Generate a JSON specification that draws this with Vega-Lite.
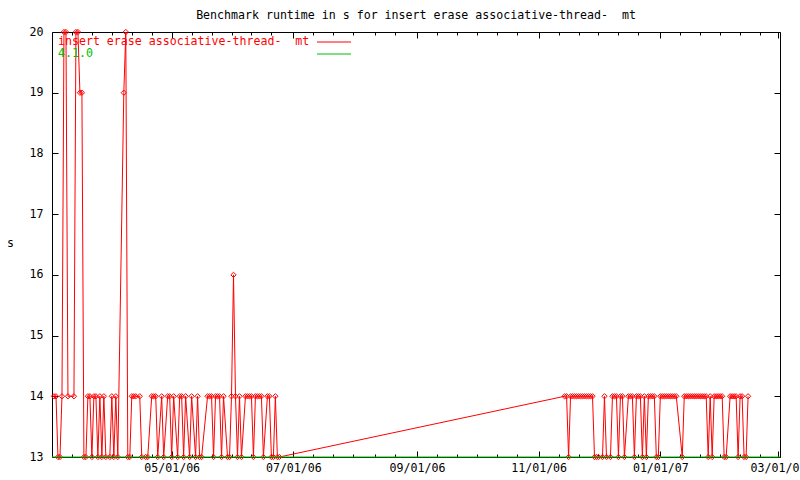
{
  "$schema": "https://vega.github.io/schema/vega-lite/v6.json",
  "width": 728,
  "height": 425,
  "autosize": "none",
  "padding": {"left": 52, "top": 32, "right": 20, "bottom": 23},
  "background": "white",
  "title": {"text": "Benchmark runtime in s for insert erase associative-thread- \u00a0mt", "font": "DejaVu Sans Mono", "fontSize": 11.6, "fontWeight": "normal", "color": "black", "anchor": "middle", "offset": 4},
  "config": {
    "view": {"stroke": "black", "strokeWidth": 1},
    "font": "DejaVu Sans Mono",
    "axis": {"domain": false, "grid": false, "labelFont": "DejaVu Sans Mono", "labelFontSize": 11.6, "labelColor": "black", "tickColor": "black", "tickWidth": 1, "titleFont": "DejaVu Sans Mono", "titleFontSize": 11.6, "titleFontWeight": "normal", "titleColor": "black"}
  },
  "datasets": {
    "bench": [
      {"d": "2006-03-03T00:00", "v": 14}, {"d": "2006-03-04T00:00", "v": 14}, {"d": "2006-03-05T00:00", "v": 13}, {"d": "2006-03-06T00:00", "v": 13},
      {"d": "2006-03-07T00:00", "v": 14}, {"d": "2006-03-08T00:00", "v": 20}, {"d": "2006-03-09T00:00", "v": 20}, {"d": "2006-03-10T00:00", "v": 14},
      {"d": "2006-03-13T00:00", "v": 14}, {"d": "2006-03-14T00:00", "v": 20}, {"d": "2006-03-15T00:00", "v": 20}, {"d": "2006-03-16T00:00", "v": 19},
      {"d": "2006-03-17T00:00", "v": 19}, {"d": "2006-03-18T00:00", "v": 13}, {"d": "2006-03-19T00:00", "v": 13}, {"d": "2006-03-20T00:00", "v": 14},
      {"d": "2006-03-21T00:00", "v": 14}, {"d": "2006-03-22T00:00", "v": 13}, {"d": "2006-03-23T00:00", "v": 14}, {"d": "2006-03-24T00:00", "v": 14},
      {"d": "2006-03-25T00:00", "v": 13}, {"d": "2006-03-26T00:00", "v": 14}, {"d": "2006-03-27T00:00", "v": 13}, {"d": "2006-03-28T00:00", "v": 14},
      {"d": "2006-03-29T00:00", "v": 13}, {"d": "2006-03-31T00:00", "v": 13}, {"d": "2006-04-01T00:00", "v": 14}, {"d": "2006-04-02T00:00", "v": 13},
      {"d": "2006-04-03T00:00", "v": 14}, {"d": "2006-04-04T00:00", "v": 13}, {"d": "2006-04-07T00:00", "v": 19}, {"d": "2006-04-08T00:00", "v": 20},
      {"d": "2006-04-09T00:00", "v": 13}, {"d": "2006-04-10T00:00", "v": 13}, {"d": "2006-04-11T00:00", "v": 14}, {"d": "2006-04-12T00:00", "v": 14},
      {"d": "2006-04-13T00:00", "v": 14}, {"d": "2006-04-15T00:00", "v": 14}, {"d": "2006-04-16T00:00", "v": 13}, {"d": "2006-04-18T00:00", "v": 13},
      {"d": "2006-04-19T00:00", "v": 13}, {"d": "2006-04-21T00:00", "v": 14}, {"d": "2006-04-22T00:00", "v": 14}, {"d": "2006-04-23T00:00", "v": 14},
      {"d": "2006-04-24T00:00", "v": 13}, {"d": "2006-04-26T00:00", "v": 14}, {"d": "2006-04-27T00:00", "v": 13}, {"d": "2006-04-29T00:00", "v": 14},
      {"d": "2006-04-30T00:00", "v": 14}, {"d": "2006-05-01T00:00", "v": 13}, {"d": "2006-05-02T00:00", "v": 14}, {"d": "2006-05-04T00:00", "v": 13},
      {"d": "2006-05-05T00:00", "v": 14}, {"d": "2006-05-06T00:00", "v": 14}, {"d": "2006-05-07T00:00", "v": 13}, {"d": "2006-05-08T00:00", "v": 14},
      {"d": "2006-05-10T00:00", "v": 13}, {"d": "2006-05-11T00:00", "v": 14}, {"d": "2006-05-13T00:00", "v": 13}, {"d": "2006-05-14T00:00", "v": 14},
      {"d": "2006-05-15T00:00", "v": 13}, {"d": "2006-05-16T00:00", "v": 13}, {"d": "2006-05-19T00:00", "v": 14}, {"d": "2006-05-20T00:00", "v": 14},
      {"d": "2006-05-21T00:00", "v": 14}, {"d": "2006-05-22T00:00", "v": 13}, {"d": "2006-05-23T00:00", "v": 14}, {"d": "2006-05-24T00:00", "v": 14},
      {"d": "2006-05-25T00:00", "v": 14}, {"d": "2006-05-26T00:00", "v": 13}, {"d": "2006-05-27T00:00", "v": 14}, {"d": "2006-05-29T00:00", "v": 13},
      {"d": "2006-05-30T00:00", "v": 13}, {"d": "2006-05-31T00:00", "v": 14}, {"d": "2006-06-01T00:00", "v": 16}, {"d": "2006-06-02T00:00", "v": 14},
      {"d": "2006-06-03T00:00", "v": 13}, {"d": "2006-06-04T00:00", "v": 14}, {"d": "2006-06-05T00:00", "v": 13}, {"d": "2006-06-07T00:00", "v": 14},
      {"d": "2006-06-08T00:00", "v": 14}, {"d": "2006-06-09T00:00", "v": 14}, {"d": "2006-06-10T00:00", "v": 14}, {"d": "2006-06-11T00:00", "v": 13},
      {"d": "2006-06-12T00:00", "v": 14}, {"d": "2006-06-13T00:00", "v": 14}, {"d": "2006-06-14T00:00", "v": 14}, {"d": "2006-06-15T00:00", "v": 14},
      {"d": "2006-06-16T00:00", "v": 13}, {"d": "2006-06-18T00:00", "v": 14}, {"d": "2006-06-19T00:00", "v": 14}, {"d": "2006-06-20T00:00", "v": 13},
      {"d": "2006-06-21T00:00", "v": 13}, {"d": "2006-06-22T00:00", "v": 14}, {"d": "2006-06-23T00:00", "v": 13}, {"d": "2006-06-24T00:00", "v": 13},
      {"d": "2006-11-14T00:00", "v": 14}, {"d": "2006-11-15T00:00", "v": 14}, {"d": "2006-11-16T00:00", "v": 13}, {"d": "2006-11-17T00:00", "v": 14},
      {"d": "2006-11-18T00:00", "v": 14}, {"d": "2006-11-19T00:00", "v": 14}, {"d": "2006-11-20T00:00", "v": 14}, {"d": "2006-11-21T00:00", "v": 14},
      {"d": "2006-11-22T00:00", "v": 14}, {"d": "2006-11-23T00:00", "v": 14}, {"d": "2006-11-24T00:00", "v": 14}, {"d": "2006-11-25T00:00", "v": 14},
      {"d": "2006-11-26T00:00", "v": 14}, {"d": "2006-11-27T00:00", "v": 14}, {"d": "2006-11-28T00:00", "v": 14}, {"d": "2006-11-29T00:00", "v": 13},
      {"d": "2006-11-30T00:00", "v": 13}, {"d": "2006-12-01T00:00", "v": 13}, {"d": "2006-12-03T00:00", "v": 13}, {"d": "2006-12-04T00:00", "v": 14},
      {"d": "2006-12-05T00:00", "v": 13}, {"d": "2006-12-07T00:00", "v": 13}, {"d": "2006-12-08T00:00", "v": 14}, {"d": "2006-12-09T00:00", "v": 14},
      {"d": "2006-12-10T00:00", "v": 14}, {"d": "2006-12-11T00:00", "v": 13}, {"d": "2006-12-12T00:00", "v": 14}, {"d": "2006-12-13T00:00", "v": 14},
      {"d": "2006-12-14T00:00", "v": 13}, {"d": "2006-12-16T00:00", "v": 14}, {"d": "2006-12-17T00:00", "v": 14}, {"d": "2006-12-18T00:00", "v": 14},
      {"d": "2006-12-19T00:00", "v": 13}, {"d": "2006-12-20T00:00", "v": 14}, {"d": "2006-12-21T00:00", "v": 14}, {"d": "2006-12-22T00:00", "v": 14},
      {"d": "2006-12-23T00:00", "v": 13}, {"d": "2006-12-24T00:00", "v": 14}, {"d": "2006-12-25T00:00", "v": 13}, {"d": "2006-12-26T00:00", "v": 14},
      {"d": "2006-12-27T00:00", "v": 14}, {"d": "2006-12-28T00:00", "v": 14}, {"d": "2006-12-29T00:00", "v": 14}, {"d": "2006-12-30T00:00", "v": 13},
      {"d": "2006-12-31T00:00", "v": 13}, {"d": "2007-01-01T00:00", "v": 14}, {"d": "2007-01-02T00:00", "v": 14}, {"d": "2007-01-03T00:00", "v": 14},
      {"d": "2007-01-04T00:00", "v": 14}, {"d": "2007-01-05T00:00", "v": 14}, {"d": "2007-01-06T00:00", "v": 14}, {"d": "2007-01-07T00:00", "v": 14},
      {"d": "2007-01-08T00:00", "v": 14}, {"d": "2007-01-09T00:00", "v": 14}, {"d": "2007-01-12T00:00", "v": 13}, {"d": "2007-01-13T00:00", "v": 14},
      {"d": "2007-01-14T00:00", "v": 14}, {"d": "2007-01-15T00:00", "v": 14}, {"d": "2007-01-16T00:00", "v": 14}, {"d": "2007-01-17T00:00", "v": 14},
      {"d": "2007-01-18T00:00", "v": 14}, {"d": "2007-01-19T00:00", "v": 14}, {"d": "2007-01-20T00:00", "v": 14}, {"d": "2007-01-21T00:00", "v": 14},
      {"d": "2007-01-22T00:00", "v": 14}, {"d": "2007-01-23T00:00", "v": 14}, {"d": "2007-01-24T00:00", "v": 14}, {"d": "2007-01-25T00:00", "v": 13},
      {"d": "2007-01-26T00:00", "v": 14}, {"d": "2007-01-27T00:00", "v": 13}, {"d": "2007-01-28T00:00", "v": 14}, {"d": "2007-01-29T00:00", "v": 14},
      {"d": "2007-01-30T00:00", "v": 14}, {"d": "2007-01-31T00:00", "v": 14}, {"d": "2007-02-01T00:00", "v": 14}, {"d": "2007-02-02T00:00", "v": 13},
      {"d": "2007-02-03T00:00", "v": 13}, {"d": "2007-02-05T00:00", "v": 14}, {"d": "2007-02-06T00:00", "v": 14}, {"d": "2007-02-07T00:00", "v": 14},
      {"d": "2007-02-08T00:00", "v": 14}, {"d": "2007-02-09T00:00", "v": 13}, {"d": "2007-02-10T00:00", "v": 14}, {"d": "2007-02-11T00:00", "v": 14},
      {"d": "2007-02-12T00:00", "v": 13}, {"d": "2007-02-13T00:00", "v": 13}, {"d": "2007-02-14T00:00", "v": 14}
    ],
    "ver": [
      {"d": "2006-03-02T00:00", "v": 13}, {"d": "2007-03-02T00:00", "v": 13}
    ]
  },
  "layer": [
    {
      "data": {"name": "bench"},
      "mark": {"type": "line", "strokeWidth": 1, "clip": false},
      "encoding": {
        "x": {"field": "d", "type": "temporal",
          "scale": {"domain": [{"year": 2006, "month": 3, "date": 2}, {"year": 2007, "month": 3, "date": 2}], "nice": false},
          "axis": {"orient": "bottom", "title": null, "format": "%m/%d/%y", "tickSize": -6, "labelPadding": 11, "labelFlush": false, "labelOverlap": false,
            "values": [{"year": 2006, "month": 5, "date": 1}, {"year": 2006, "month": 7, "date": 1}, {"year": 2006, "month": 9, "date": 1}, {"year": 2006, "month": 11, "date": 1}, {"year": 2007, "month": 1, "date": 1}, {"year": 2007, "month": 3, "date": 1}]}},
        "y": {"field": "v", "type": "quantitative",
          "scale": {"domain": [13, 20], "nice": false, "zero": false},
          "axis": {"orient": "left", "values": [13, 14, 15, 16, 17, 18, 19, 20], "format": "d", "tickSize": -6, "labelPadding": 15,
            "title": "s", "titleAngle": 0, "titleX": -42, "titleY": 211, "titleAlign": "center", "titleBaseline": "middle"}},
        "color": {"datum": "insert erase associative-thread- \u00a0mt",
          "scale": {"domain": ["insert erase associative-thread- \u00a0mt", "4.1.0"], "range": ["#ff0000", "#00c000"]},
          "legend": {"orient": "none", "legendX": 6, "legendY": 4, "title": null, "padding": 0,
            "symbolType": "stroke", "symbolSize": 100, "symbolStrokeWidth": 1, "rowPadding": -2,
            "labelFont": "DejaVu Sans Mono", "labelFontSize": 11.6, "labelLimit": 400,
            "encode": {
              "labels": {"update": {"x": {"value": 0}, "y": {"value": 5.5}, "baseline": {"value": "middle"}, "fill": {"scale": "color", "field": "value"}}},
              "symbols": {"update": {"x": {"value": 276}, "y": {"value": 6}, "size": {"value": 1156}, "strokeWidth": {"value": 1}, "opacity": {"value": 1}, "stroke": {"scale": "color", "field": "value"}}}
            }}}
      }
    },
    {
      "data": {"name": "bench"},
      "mark": {"type": "point", "shape": "diamond", "filled": false, "color": "#ff0000", "size": 28, "strokeWidth": 1, "opacity": 1, "clip": false},
      "encoding": {
        "x": {"field": "d", "type": "temporal", "axis": null},
        "y": {"field": "v", "type": "quantitative", "axis": null}
      }
    },
    {
      "data": {"name": "ver"},
      "mark": {"type": "line", "strokeWidth": 1},
      "encoding": {
        "x": {"field": "d", "type": "temporal",
          "axis": {"orient": "top", "title": null, "labels": false, "tickSize": -6,
            "values": [{"year": 2006, "month": 5, "date": 1}, {"year": 2006, "month": 7, "date": 1}, {"year": 2006, "month": 9, "date": 1}, {"year": 2006, "month": 11, "date": 1}, {"year": 2007, "month": 1, "date": 1}, {"year": 2007, "month": 3, "date": 1}]}},
        "y": {"field": "v", "type": "quantitative",
          "axis": {"orient": "right", "title": null, "labels": false, "tickSize": -6, "values": [13, 14, 15, 16, 17, 18, 19, 20]}},
        "color": {"datum": "4.1.0"}
      }
    },
    {
      "data": {"name": "ver"},
      "mark": {"type": "line", "strokeOpacity": 0},
      "encoding": {
        "x": {"field": "d", "type": "temporal",
          "axis": {"orient": "bottom", "title": null, "labels": false, "tickSize": -3,
            "values": [{"year": 2006, "month": 3, "date": 12}, {"year": 2006, "month": 3, "date": 22}, {"year": 2006, "month": 4, "date": 1}, {"year": 2006, "month": 4, "date": 11}, {"year": 2006, "month": 4, "date": 21},
              {"year": 2006, "month": 5, "date": 11}, {"year": 2006, "month": 5, "date": 21}, {"year": 2006, "month": 5, "date": 31}, {"year": 2006, "month": 6, "date": 10}, {"year": 2006, "month": 6, "date": 20},
              {"year": 2006, "month": 7, "date": 11}, {"year": 2006, "month": 7, "date": 21}, {"year": 2006, "month": 7, "date": 31}, {"year": 2006, "month": 8, "date": 11}, {"year": 2006, "month": 8, "date": 21},
              {"year": 2006, "month": 9, "date": 11}, {"year": 2006, "month": 9, "date": 21}, {"year": 2006, "month": 10, "date": 1}, {"year": 2006, "month": 10, "date": 11}, {"year": 2006, "month": 10, "date": 21},
              {"year": 2006, "month": 11, "date": 11}, {"year": 2006, "month": 11, "date": 21}, {"year": 2006, "month": 12, "date": 1}, {"year": 2006, "month": 12, "date": 11}, {"year": 2006, "month": 12, "date": 21},
              {"year": 2007, "month": 1, "date": 11}, {"year": 2007, "month": 1, "date": 21}, {"year": 2007, "month": 1, "date": 31}, {"year": 2007, "month": 2, "date": 10}, {"year": 2007, "month": 2, "date": 20}]}},
        "y": {"field": "v", "type": "quantitative", "axis": null}
      }
    },
    {
      "data": {"name": "ver"},
      "mark": {"type": "line", "strokeOpacity": 0},
      "encoding": {
        "x": {"field": "d", "type": "temporal",
          "axis": {"orient": "top", "title": null, "labels": false, "tickSize": -3,
            "values": [{"year": 2006, "month": 3, "date": 12}, {"year": 2006, "month": 3, "date": 22}, {"year": 2006, "month": 4, "date": 1}, {"year": 2006, "month": 4, "date": 11}, {"year": 2006, "month": 4, "date": 21},
              {"year": 2006, "month": 5, "date": 11}, {"year": 2006, "month": 5, "date": 21}, {"year": 2006, "month": 5, "date": 31}, {"year": 2006, "month": 6, "date": 10}, {"year": 2006, "month": 6, "date": 20},
              {"year": 2006, "month": 7, "date": 11}, {"year": 2006, "month": 7, "date": 21}, {"year": 2006, "month": 7, "date": 31}, {"year": 2006, "month": 8, "date": 11}, {"year": 2006, "month": 8, "date": 21},
              {"year": 2006, "month": 9, "date": 11}, {"year": 2006, "month": 9, "date": 21}, {"year": 2006, "month": 10, "date": 1}, {"year": 2006, "month": 10, "date": 11}, {"year": 2006, "month": 10, "date": 21},
              {"year": 2006, "month": 11, "date": 11}, {"year": 2006, "month": 11, "date": 21}, {"year": 2006, "month": 12, "date": 1}, {"year": 2006, "month": 12, "date": 11}, {"year": 2006, "month": 12, "date": 21},
              {"year": 2007, "month": 1, "date": 11}, {"year": 2007, "month": 1, "date": 21}, {"year": 2007, "month": 1, "date": 31}, {"year": 2007, "month": 2, "date": 10}, {"year": 2007, "month": 2, "date": 20}]}},
        "y": {"field": "v", "type": "quantitative", "axis": null}
      }
    }
  ],
  "resolve": {"axis": {"x": "independent", "y": "independent"}}
}
